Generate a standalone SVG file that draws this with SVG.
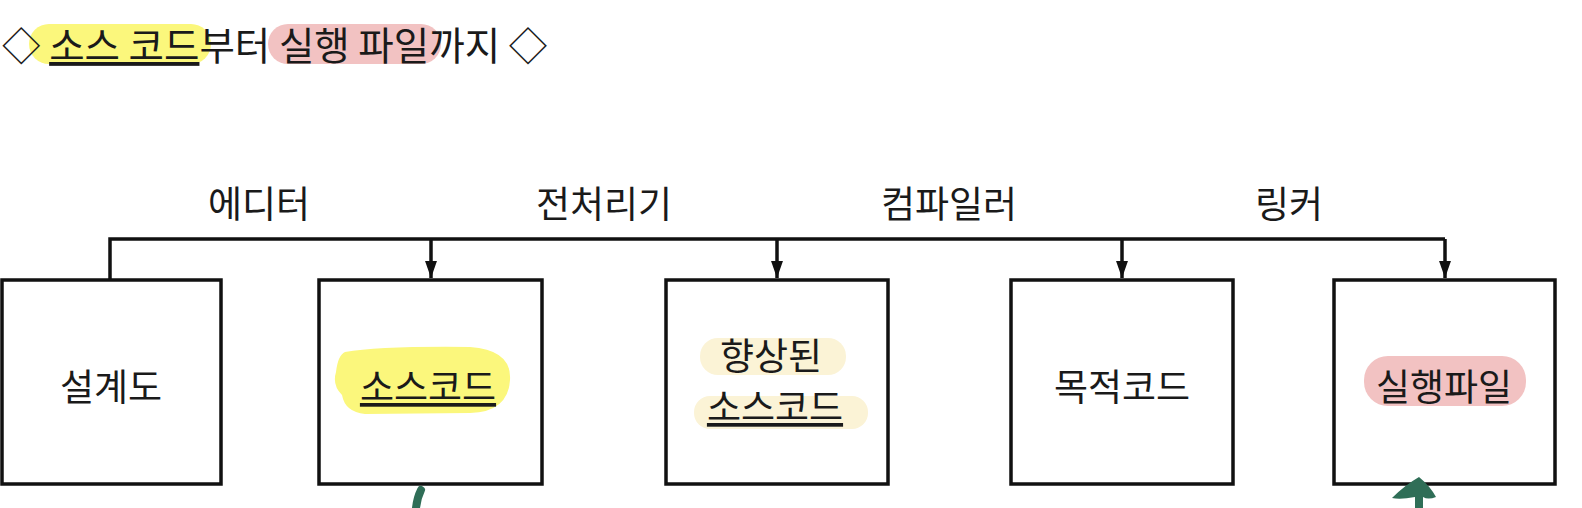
<svg xmlns="http://www.w3.org/2000/svg" width="1582" height="508" viewBox="0 0 1582 508">
<defs>
<style>
.t{font-family:"Noto Sans CJK KR","Noto Sans",sans-serif;fill:#1a1a1a;}
.lbl{font-size:37px;text-anchor:middle;}
.node rect.box{fill:#fff;stroke:#111;stroke-width:3.5;}
.conn{fill:none;stroke:#111;stroke-width:3.5;}
.hl-y{fill:#fbf77c;}
.hl-p{fill:#f2c2c2;}
.hl-c{fill:#fbf3d6;}
.green{fill:none;stroke:#2f6e57;stroke-width:8;stroke-linecap:round;}
</style>
<marker id="ah" viewBox="0 0 10 7" refX="10" refY="3.5" markerWidth="5" markerHeight="3.5" markerUnits="strokeWidth" orient="auto">
<path d="M0,0 L10,3.5 L0,7 z" fill="#111"/>
</marker>
</defs>
<rect width="1582" height="508" fill="#fff"/>
<g id="title">
<rect class="hl-y" x="29" y="24" width="182" height="40" rx="20"/>
<rect class="hl-p" x="268" y="24" width="173" height="40" rx="20"/>
<text class="t" x="2" y="60" font-size="38.5">◇ <tspan text-decoration="underline">소스 코드</tspan>부터 실행 파일까지 ◇</text>
</g>
<g id="connectors">
<path class="conn" d="M110,280 V239 H1445"/>
<path class="conn" d="M431,239 V278" marker-end="url(#ah)"/>
<path class="conn" d="M777,239 V278" marker-end="url(#ah)"/>
<path class="conn" d="M1122,239 V278" marker-end="url(#ah)"/>
<path class="conn" d="M1445,239 V278" marker-end="url(#ah)"/>
<text class="t lbl" x="259" y="218">에디터</text>
<text class="t lbl" x="604" y="218">전처리기</text>
<text class="t lbl" x="949" y="218">컴파일러</text>
<text class="t lbl" x="1289" y="218">링커</text>
</g>
<g id="node-design" class="node">
<rect class="box" x="2" y="280" width="219" height="204"/>
<text class="t lbl" x="111" y="401">설계도</text>
</g>
<g id="node-source" class="node">
<rect class="box" x="319" y="280" width="223" height="204"/>
<path class="hl-y" d="M345,352 Q380,346 470,347 Q512,350 510,380 Q508,412 470,413 L365,414 Q345,412 342,395 Q332,385 336,372 Q338,355 345,352 z"/>
<text class="t lbl" x="428" y="401" text-decoration="underline">소스코드</text>
</g>
<g id="node-improved" class="node">
<rect class="box" x="666" y="280" width="222" height="204"/>
<rect class="hl-c" x="700" y="338" width="146" height="37" rx="18"/>
<rect class="hl-c" x="694" y="396" width="174" height="33" rx="16"/>
<text class="t lbl" x="771" y="370">향상된</text>
<text class="t lbl" x="775" y="421" text-decoration="underline">소스코드</text>
</g>
<g id="node-object" class="node">
<rect class="box" x="1011" y="280" width="222" height="204"/>
<text class="t lbl" x="1122" y="401">목적코드</text>
</g>
<g id="node-exe" class="node">
<rect class="box" x="1334" y="280" width="221" height="204"/>
<rect class="hl-p" x="1364" y="356" width="162" height="50" rx="24"/>
<text class="t lbl" x="1444" y="401">실행파일</text>
</g>
<g id="annotations">
<path class="green" d="M421,490 Q417,498 416,508"/>
<path d="M1419,477 Q1430,486 1436,497 Q1428,500 1423,497 L1423,508 L1415,508 L1415,497 Q1400,500 1392,498 Q1405,485 1419,477 z" fill="#2f6e57"/>
</g>
</svg>
